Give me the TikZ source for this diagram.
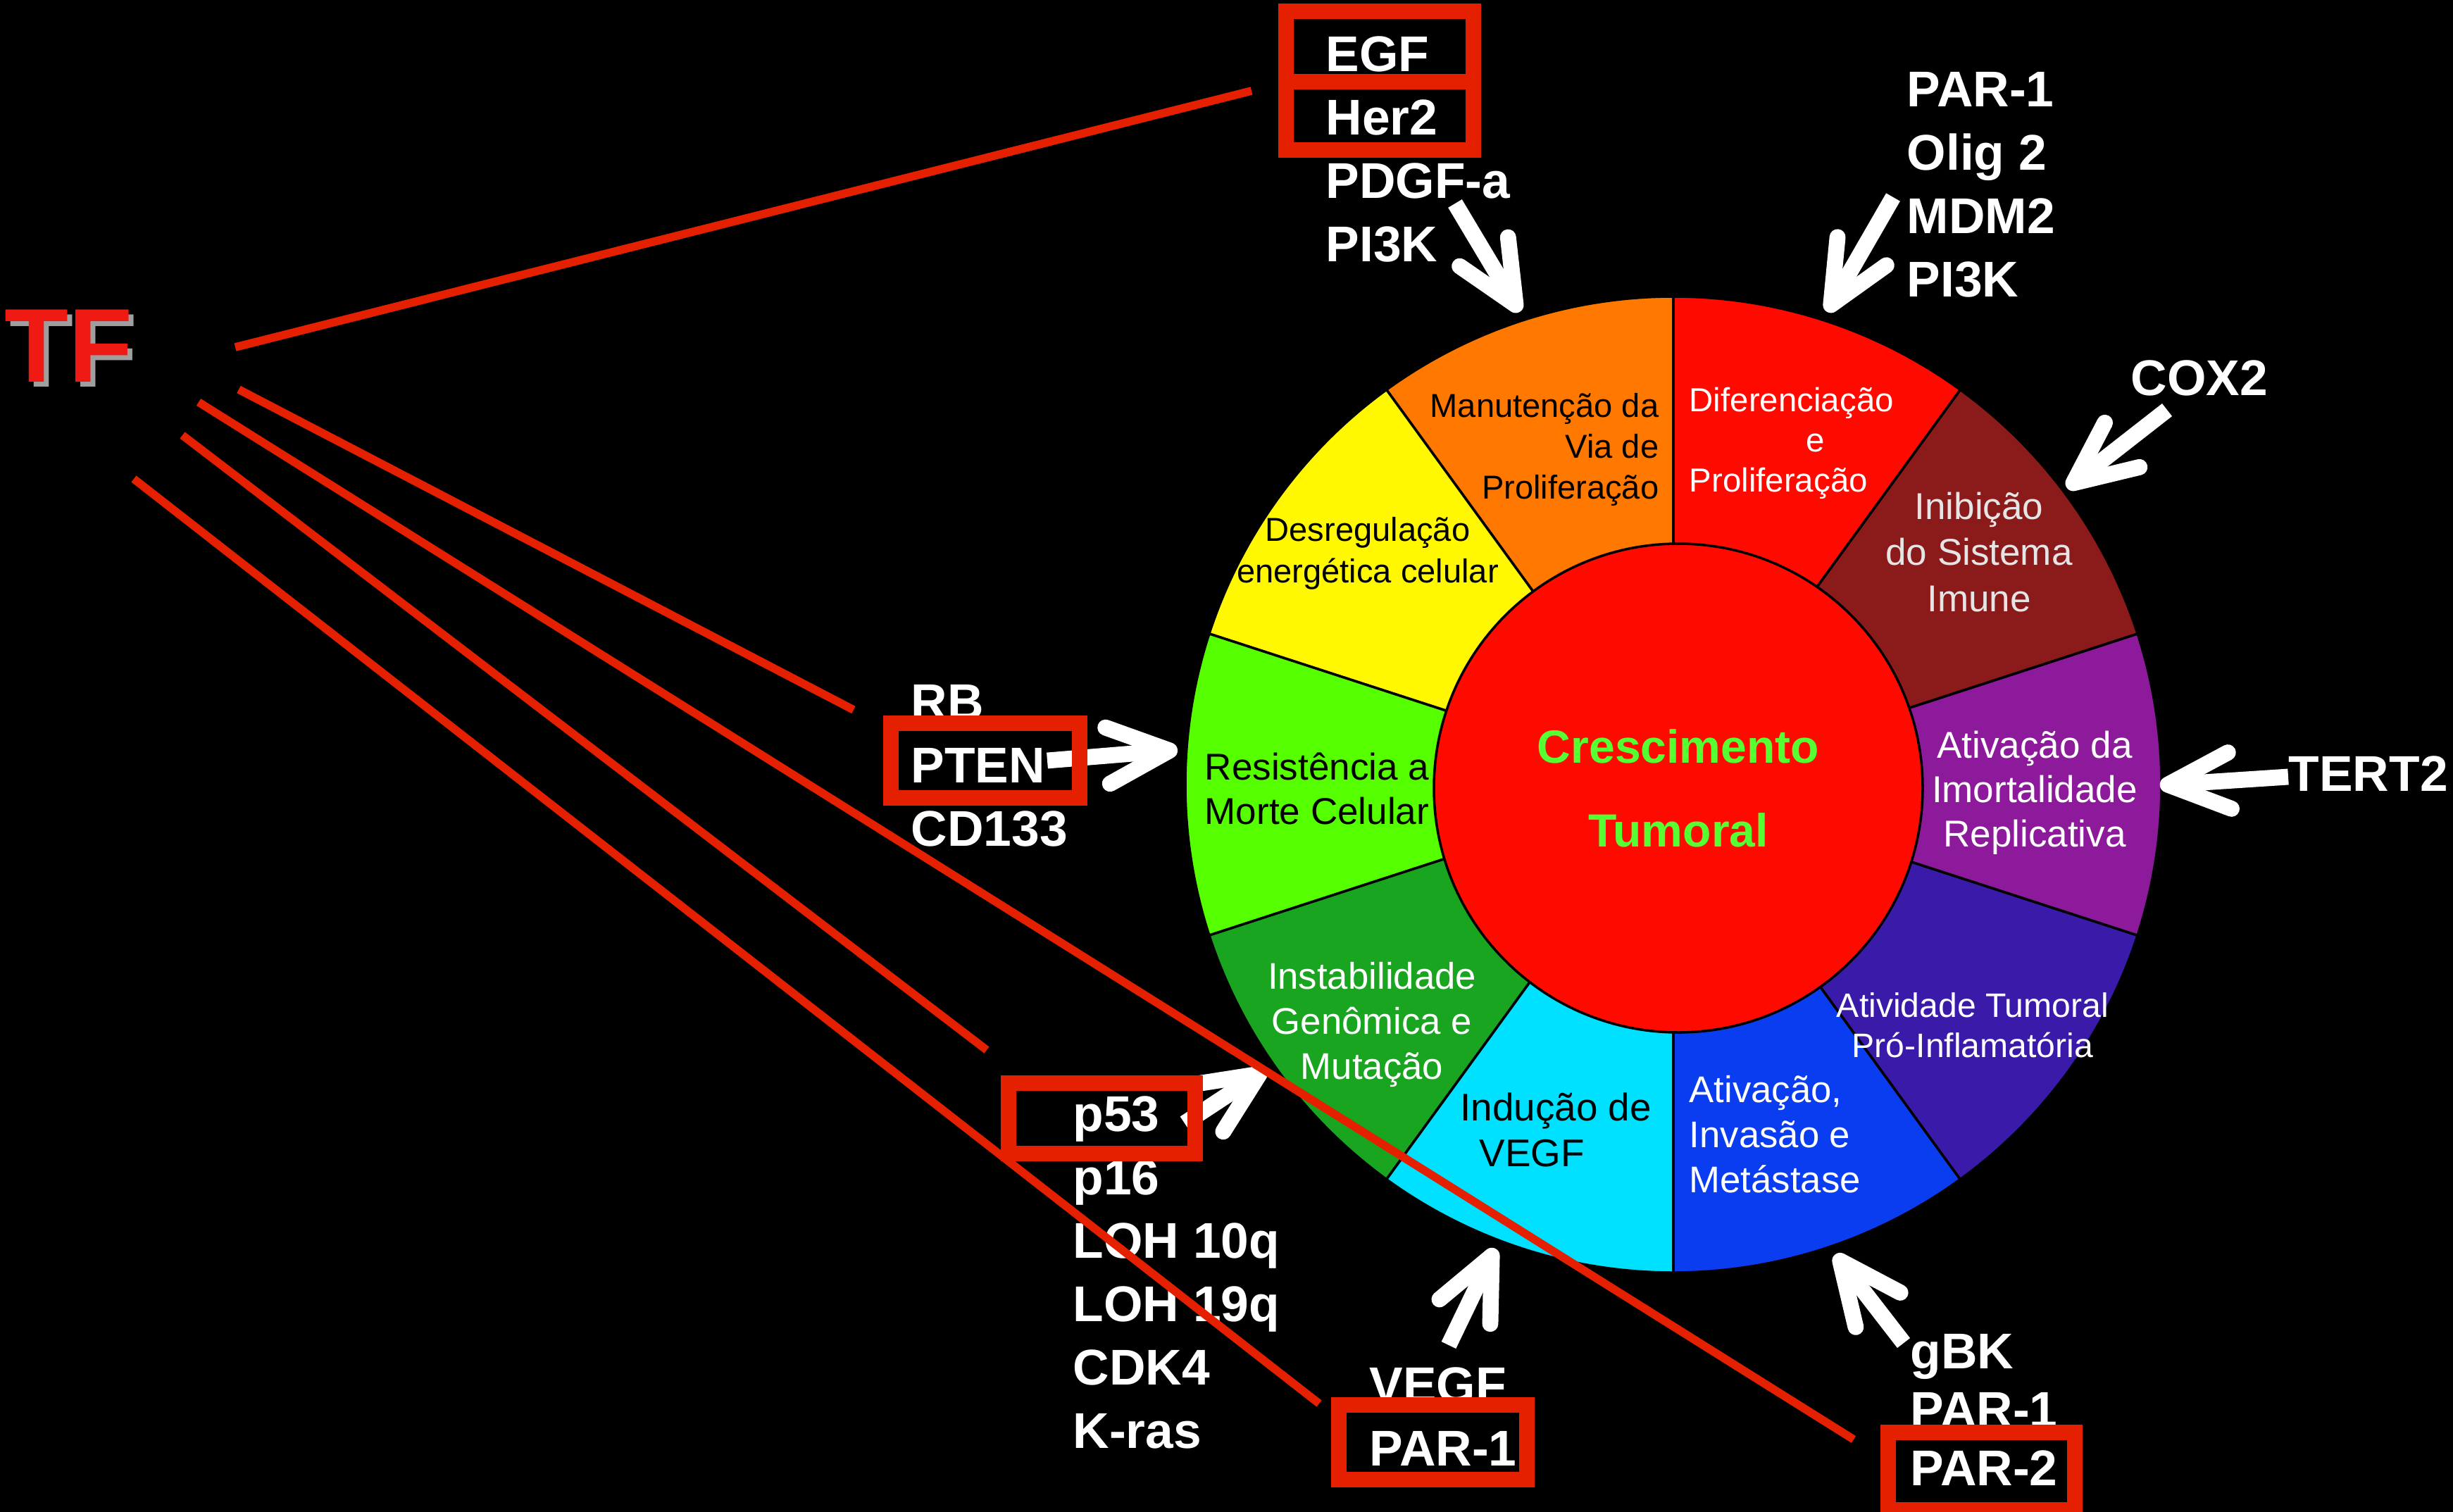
\documentclass[tikz,border=0pt]{standalone}
\usepackage{fontspec}
\setmainfont{Liberation Sans}
\usetikzlibrary{arrows.meta}

\definecolor{secorange}{RGB}{255,120,0}
\definecolor{secyellow}{RGB}{255,248,0}
\definecolor{seclime}{RGB}{85,255,0}
\definecolor{secgreen}{RGB}{26,165,32}
\definecolor{seccyan}{RGB}{0,225,255}
\definecolor{secblue}{RGB}{10,60,240}
\definecolor{secindigo}{RGB}{58,26,168}
\definecolor{secpurple}{RGB}{140,26,154}
\definecolor{secmaroon}{RGB}{139,26,26}
\definecolor{secred}{RGB}{255,10,0}
\definecolor{hubgreen}{RGB}{85,255,50}
\definecolor{chalk}{RGB}{228,32,0}
\definecolor{tfred}{RGB}{240,26,20}

\tikzset{
  sector/.style={draw=black, line width=1pt},
  sectxt/.style={inner sep=0pt, text=white},
  lbl/.style={inner sep=0pt, text=white, align=left,
    font=\bfseries\fontsize{20.3}{25.6}\selectfont},
  whitearrow/.style={draw=white, line width=6.5pt,
    -{Straight Barb[length=8.8mm, width=8mm, round]}},
  chalkline/.style={draw=chalk, line width=3.3pt},
  chalkbox/.style={draw=chalk, line width=6.2pt, inner sep=0pt},
}

\begin{document}
\begin{tikzpicture}
    \useasboundingbox (0,0) rectangle (34.83,-21.47);
    \fill[black] (0,0) rectangle (34.83,-21.47);

    % wheel of hallmarks
    \coordinate (wc) at (23.76,-11.14);
    \foreach \ang/\col in {90/secorange,126/secyellow,162/seclime,198/secgreen,234/seccyan,
                           270/secblue,306/secindigo,342/secpurple,18/secmaroon,54/secred}
        \filldraw[sector, fill=\col] (wc) -- ++(\ang:6.93) arc[start angle=\ang, delta angle=36, radius=6.93] -- cycle;
    \node[circle, minimum size=14.1cm, inner sep=0pt] (wheel) at (wc) {};
    \node[circle, draw=black, line width=1pt, fill=secred, minimum size=6.94cm, inner sep=0pt,
          text=hubgreen, align=center, font=\bfseries\fontsize{18.8}{33.9}\selectfont] (hub) at (23.83,-11.19) {Crescimento\\Tumoral};

    \node[sectxt, text=black, anchor=east, align=right, font=\fontsize{13.4}{16.5}\selectfont] (tManut) at (23.56,-6.38) {Manutenção da\\Via de\\Proliferação};
    \node[sectxt, anchor=west, align=left, font=\fontsize{13.5}{16.2}\selectfont] (tDifer) at (23.98,-6.29) {Diferenciação\\\hspace*{1.66cm}e\\Proliferação};
    \node[sectxt, text=white!90!black, align=center, font=\fontsize{15.1}{18.5}\selectfont] (tInib) at (28.10,-7.84) {Inibição\\do Sistema\\Imune};
    \node[sectxt, align=center, font=\fontsize{15.1}{17.9}\selectfont] (tImort) at (28.89,-11.26) {Ativação da\\Imortalidade\\Replicativa};
    \node[sectxt, align=center, font=\fontsize{13.7}{16.2}\selectfont] (tInflam) at (28.01,-14.56) {Atividade Tumoral\\Pró-Inflamatória};
    \node[sectxt, anchor=west, align=left, font=\fontsize{15}{18.2}\selectfont] (tMetas) at (23.98,-16.11) {Ativação,\\Invasão e\\Metástase};
    \node[sectxt, text=black, anchor=west, align=left, font=\fontsize{15.6}{18.5}\selectfont] (tVegf) at (20.73,-16.04) {Indução de\\\hspace*{0.27cm}VEGF};
    \node[sectxt, align=center, font=\fontsize{15}{18.2}\selectfont] (tGenom) at (19.48,-14.55) {Instabilidade\\Genômica e\\Mutação};
    \node[sectxt, text=black, anchor=west, align=left, font=\fontsize{15.1}{17.9}\selectfont] (tMorte) at (17.10,-11.20) {Resistência a\\Morte Celular};
    \node[sectxt, text=black, align=center, font=\fontsize{13.4}{16.8}\selectfont] (tEnerg) at (19.42,-7.86) {Desregulação\\energética celular};

    % gene lists
    \node[lbl, anchor=west] (egf) at (18.82,-2.12) {EGF\\Her2\\PDGF-a\\PI3K};
    \node[lbl, anchor=west] (par) at (27.07,-2.62) {PAR-1\\Olig 2\\MDM2\\PI3K};
    \node[lbl, anchor=west] (cox) at (30.25,-5.365) {COX2};
    \node[lbl, anchor=west] (pten) at (12.93,-10.87) {RB\\PTEN\\CD133};
    \node[lbl, anchor=west] (tert) at (32.49,-10.985) {TERT2};
    \node[lbl, anchor=west] (p53) at (15.23,-18.07) {p53\\p16\\LOH 10q\\LOH 19q\\CDK4\\K-ras};
    \node[lbl, anchor=west] (vegf) at (19.44,-20.12) {VEGF\\PAR-1};
    \node[lbl, anchor=west, font=\bfseries\fontsize{20.3}{23.6}\selectfont] (gbk) at (27.12,-20.02) {gBK\\PAR-1\\PAR-2};

    % arrows into the wheel
    \coordinate (tailPDGF) at (20.66,-2.89);
    \coordinate (tailMDM) at (26.88,-2.80);
    \coordinate (tailCOX) at (30.77,-5.82);
    \coordinate (tailTERT) at (32.49,-11.03);
    \coordinate (tailGBK) at (27.03,-19.07);
    \coordinate (tailVEGF) at (20.57,-19.10);
    \coordinate (tailP53) at (16.82,-15.95);
    \coordinate (tailPTEN) at (14.87,-10.80);
    \draw[whitearrow] (tailPDGF) -- (wheel.108.6);
    \draw[whitearrow] (tailMDM) -- (wheel.72.8);
    \draw[whitearrow, shorten >=-0.06cm] (tailCOX) -- (wheel.37.9);
    \draw[whitearrow, shorten >=-0.15cm] (tailTERT) -- (wheel.0.9);
    \draw[whitearrow] (tailGBK) -- (wheel.-71);
    \draw[whitearrow] (tailVEGF) -- (wheel.-111.5);
    \draw[whitearrow] (tailP53) -- (wheel.215);
    \draw[whitearrow] (tailPTEN) -- (wheel.176.6);

    % chalk strokes from TF
    \coordinate (tfA) at (3.34,-4.93);
    \coordinate (tfB) at (3.39,-5.53);
    \coordinate (tfC) at (2.82,-5.71);
    \coordinate (tfD) at (2.59,-6.18);
    \coordinate (tfE) at (1.90,-6.80);
    \coordinate (endA) at (17.77,-1.29);
    \coordinate (endB) at (12.12,-10.08);
    \coordinate (endC) at (26.32,-20.44);
    \coordinate (endD) at (14.01,-14.91);
    \coordinate (endE) at (18.73,-19.93);
    \draw[chalkline] (tfA) -- (endA);
    \draw[chalkline] (tfB) -- (endB);
    \draw[chalkline] (tfC) -- (endC);
    \draw[chalkline] (tfD) -- (endD);
    \draw[chalkline] (tfE) -- (endE);

    \node[chalkbox, minimum width=2.66cm, minimum height=1.0cm] (egfbox) at (19.59,-0.66) {};
    \node[chalkbox, minimum width=2.66cm, minimum height=0.97cm] (her2box) at (19.59,-1.645) {};
    \node[chalkbox, minimum width=2.68cm, minimum height=1.06cm] (ptenbox) at (13.99,-10.80) {};
    \node[chalkbox, minimum width=2.65cm, minimum height=1.0cm] (p53box) at (15.645,-15.88) {};
    \node[chalkbox, minimum width=2.67cm, minimum height=1.06cm] (par1box) at (20.345,-20.48) {};
    \node[chalkbox, minimum width=2.65cm, minimum height=1.1cm] (par2box) at (28.135,-20.89) {};

    \node[inner sep=0pt, anchor=base west, text=tfred, font=\bfseries\fontsize{42.4}{50}\selectfont] (tf) at (0.06,-5.42)
        {\rlap{\hspace{0.07cm}\raisebox{-0.07cm}{\color{gray!75}TF}}TF};
\end{tikzpicture}
\end{document}
